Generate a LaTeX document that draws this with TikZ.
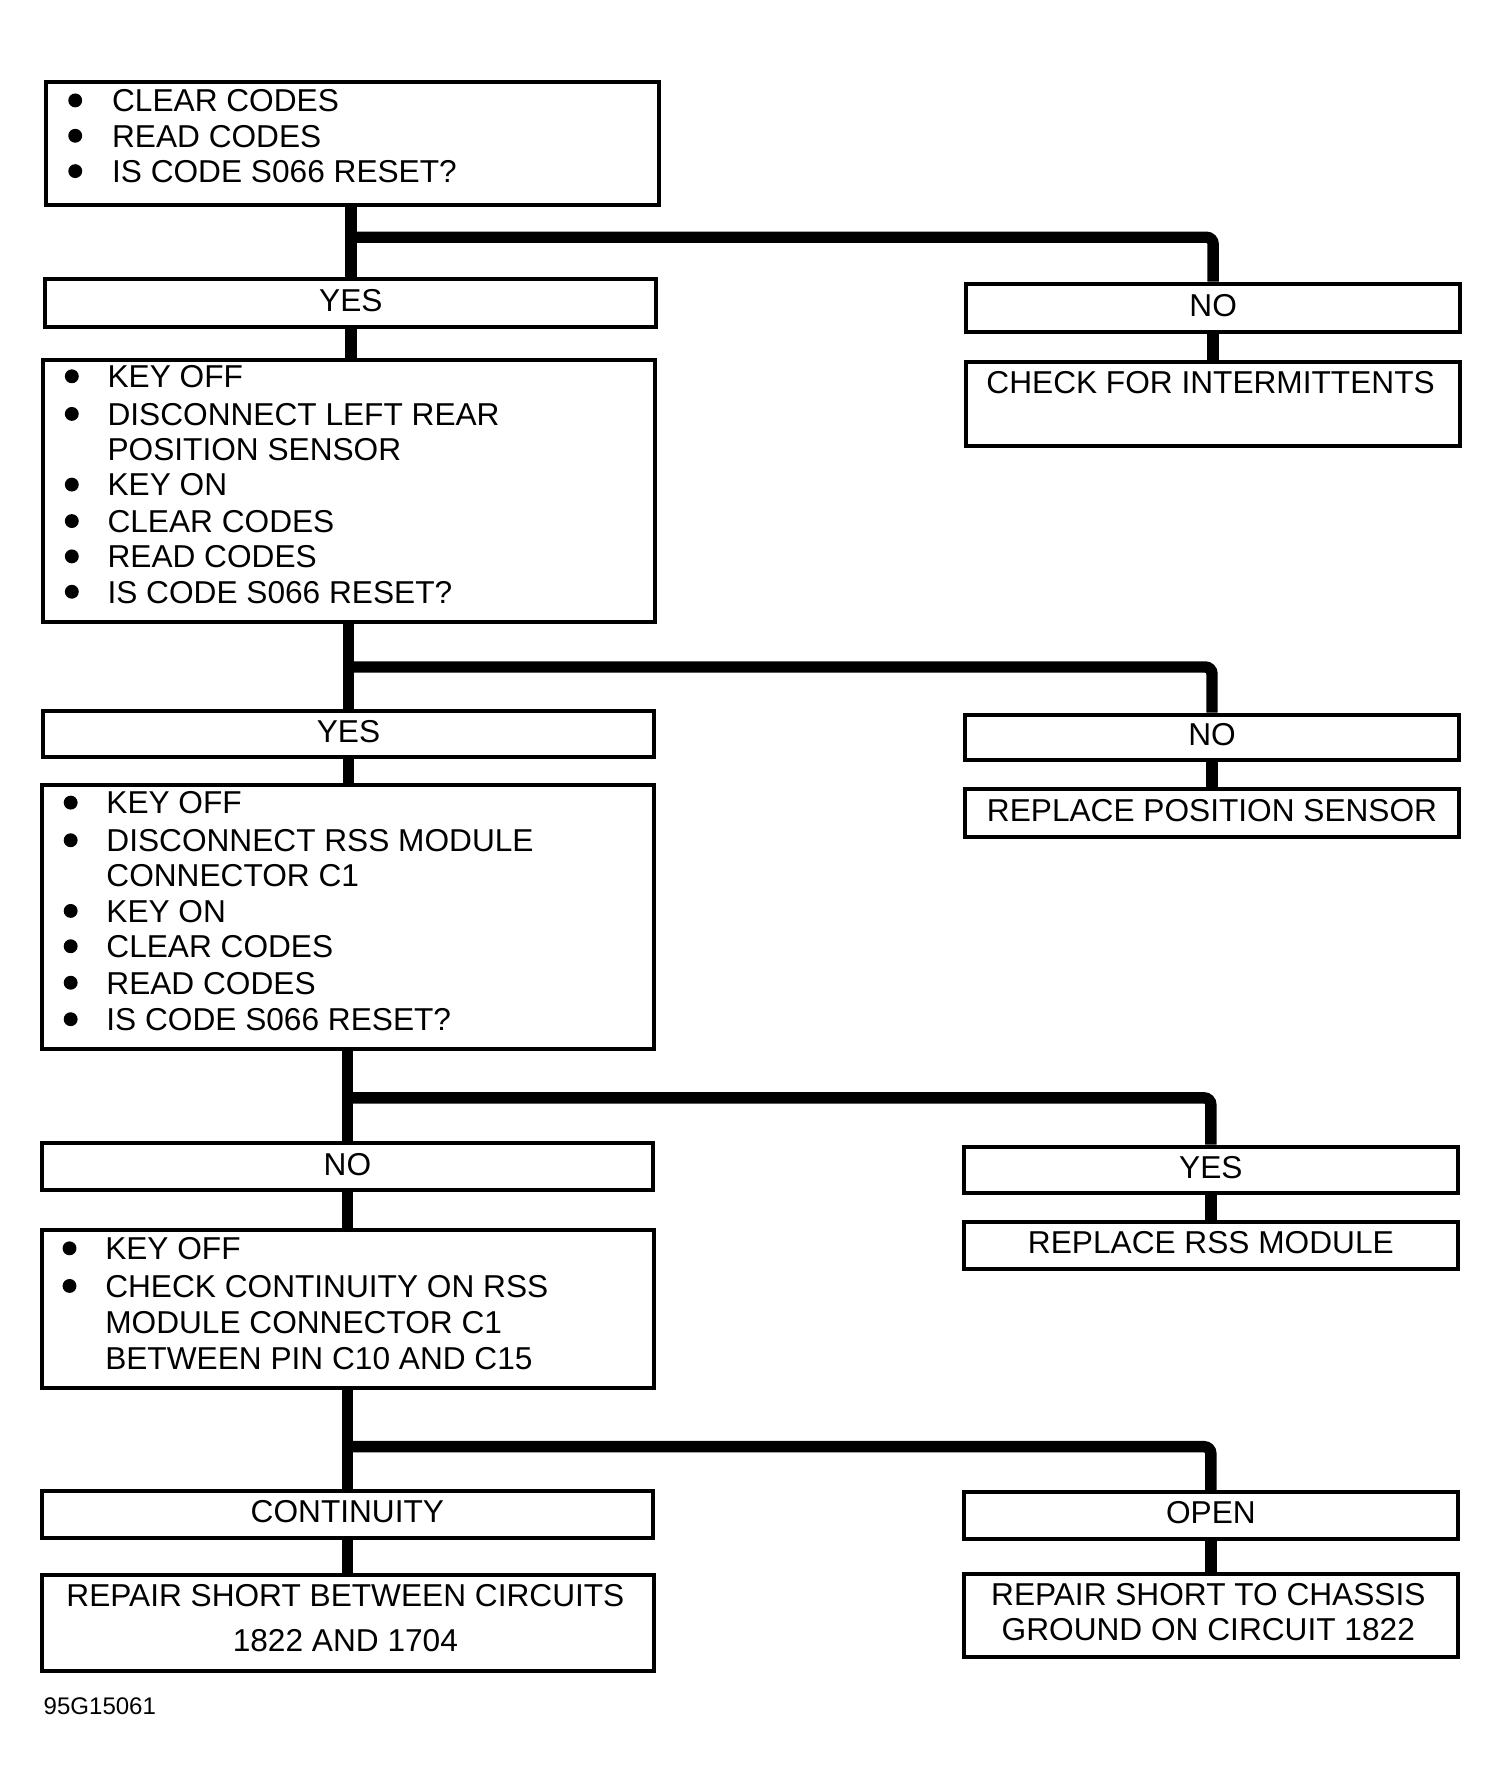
\documentclass[tikz,border=0pt]{standalone}
\usepackage{fontspec}
\setmainfont{Liberation Sans}
\newcommand\fs{\fontsize{15.8pt}{18pt}\selectfont}
\newcommand\fsm{\fontsize{12pt}{14pt}\selectfont}
\tikzset{
  box/.style={draw, line width=0.07cm, inner sep=0pt, anchor=north west, font=\fs, text height=11.3pt, text depth=2.8pt},
  txt/.style={inner sep=0pt, anchor=west, font=\fs, text height=11.3pt, text depth=0pt},
  ctxt/.style={inner sep=0pt, anchor=center, font=\fs, text height=11.3pt, text depth=0pt},
  conn/.style={line width=0.2cm, rounded corners=0.12cm},
  bul/.style={fill=black}
}
\newcommand\bx[6]{\node[box, minimum width=#4*0.02cm, minimum height=#5*0.02cm] (#1) at (#2,#3) {#6};}
\newcommand\tl[4]{\node[txt] (#1) at (#2,#3) {#4};}
\newcommand\bu[2]{\fill[bul] (#1,#2) circle[radius=0.122cm];}
\begin{document}
\begin{tikzpicture}[x=0.02cm, y=-0.02cm]
\useasboundingbox (-1,-1.1) rectangle (1313.4,1569.2);
% ---------- boxes ----------
\bx{b1}{38}{69}{537}{108}{}
\bx{yes1}{37}{242}{536}{42}{YES}
\bx{no1}{845}{246}{433}{42}{NO}
\bx{b2}{35}{313}{537}{230}{}
\bx{chk}{845}{315}{433}{73}{}
\bx{yes2}{35}{621}{536}{40}{YES}
\bx{no2}{844}{624}{433}{40}{NO}
\bx{rps}{844}{689}{433}{42}{REPLACE POSITION SENSOR}
\bx{b3}{34}{686}{537}{231}{}
\bx{no3}{34}{1000}{536}{41}{NO}
\bx{yes3}{843}{1003}{433}{41}{YES}
\bx{rrm}{843}{1069}{433}{41}{REPLACE RSS MODULE}
\bx{b4}{34}{1076}{537}{139}{}
\bx{cont}{34}{1305}{536}{41}{CONTINUITY}
\bx{open}{843}{1306}{433}{41}{OPEN}
\bx{rsb}{34}{1379}{537}{84}{}
\bx{rsc}{843}{1378}{433}{73}{}
% ---------- box texts ----------
\bu{65}{87}\tl{t1a}{97}{87}{CLEAR CODES}
\bu{65}{118}\tl{t1b}{97}{118}{READ CODES}
\bu{65}{149}\tl{t1c}{97}{149}{IS CODE S066 RESET?}

\bu{62}{329}\tl{t2a}{93}{329}{KEY OFF}
\bu{62}{362}\tl{t2b}{93}{362}{DISCONNECT LEFT REAR}
\tl{t2c}{93}{393}{POSITION SENSOR}
\bu{62}{424}\tl{t2d}{93}{424}{KEY ON}
\bu{62}{456}\tl{t2e}{93}{456}{CLEAR CODES}
\bu{62}{487}\tl{t2f}{93}{487}{READ CODES}
\bu{62}{518}\tl{t2g}{93}{518}{IS CODE S066 RESET?}

\node[ctxt] (tchk) at (1061,334) {CHECK FOR INTERMITTENTS};

\bu{61}{703}\tl{t3a}{92}{703}{KEY OFF}
\bu{61}{736}\tl{t3b}{92}{736}{DISCONNECT RSS MODULE}
\tl{t3c}{92}{767}{CONNECTOR C1}
\bu{61}{798}\tl{t3d}{92}{798}{KEY ON}
\bu{61}{829}\tl{t3e}{92}{829}{CLEAR CODES}
\bu{61}{861}\tl{t3f}{92}{861}{READ CODES}
\bu{61}{893}\tl{t3g}{92}{893}{IS CODE S066 RESET?}

\bu{60}{1094}\tl{t4a}{91}{1094}{KEY OFF}
\bu{60}{1127}\tl{t4b}{91}{1127}{CHECK CONTINUITY ON RSS}
\tl{t4c}{91}{1159}{MODULE CONNECTOR C1}
\tl{t4d}{91}{1190}{BETWEEN PIN C10 AND C15}

\node[ctxt] (trsb1) at (302,1398) {REPAIR SHORT BETWEEN CIRCUITS};
\node[ctxt] (trsb2) at (302,1438) {1822 AND 1704};
\node[ctxt] (trsc1) at (1059,1397) {REPAIR SHORT TO CHASSIS};
\node[ctxt] (trsc2) at (1059,1428) {GROUND ON CIRCUIT 1822};

\node[inner sep=0pt, anchor=west, font=\fsm, text height=8.6pt, text depth=0pt] (fig) at (37,1495) {95G15061};
% ---------- junctions ----------
\coordinate (j1) at (305,207);
\coordinate (j2) at (303,584);
\coordinate (j3) at (302,962);
\coordinate (j4) at (302,1268);
% ---------- connectors ----------
\draw[conn] (b1.south -| yes1.north) -- (yes1.north);
\draw[conn] (j1) -| (no1.north);
\draw[conn] (yes1.south) -- (yes1.south |- b2.north);
\draw[conn] (no1.south) -- (no1.south |- chk.north);

\draw[conn] (b2.south -| yes2.north) -- (yes2.north);
\draw[conn] (j2) -| (no2.north);
\draw[conn] (yes2.south) -- (yes2.south |- b3.north);
\draw[conn] (no2.south) -- (no2.south |- rps.north);

\draw[conn] (b3.south -| no3.north) -- (no3.north);
\draw[conn] (j3) -| (yes3.north);
\draw[conn] (no3.south) -- (no3.south |- b4.north);
\draw[conn] (yes3.south) -- (yes3.south |- rrm.north);

\draw[conn] (b4.south -| cont.north) -- (cont.north);
\draw[conn] (j4) -| (open.north);
\draw[conn] (cont.south) -- (cont.south |- rsb.north);
\draw[conn] (open.south) -- (open.south |- rsc.north);
\end{tikzpicture}
\end{document}
